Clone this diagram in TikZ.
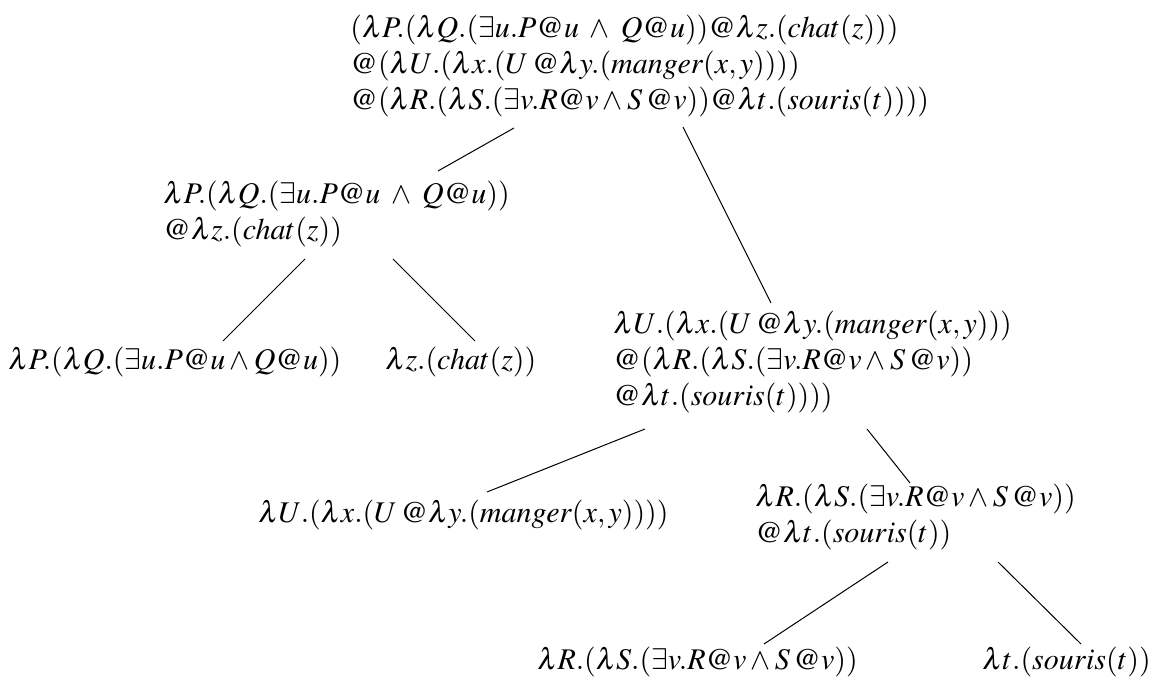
\documentclass[tikz,border=0pt]{standalone}
\usepackage{mathptmx}
\begin{document}
\begin{tikzpicture}[x=0.5pt,y=-0.5pt,
  term/.style={align=left, inner sep=0pt, anchor=west, font=\fontsize{15}{18}\selectfont},
  edge/.style={line width=0.5pt}]
\useasboundingbox (0,0) rectangle (1164,684);
\node[term] (root) at (350,66) {$(\lambda P.(\lambda Q.(\exists u.P@u\;\wedge\;Q@u))@\lambda z.(chat(z)))$\\
$@(\lambda U.(\lambda x.(U\,@\lambda y.(manger(x,y))))$\\
$@(\lambda R.(\lambda S.(\exists v.R@v\wedge S\,@v))@\lambda t.(souris(t))))$};
\node[term] (A) at (163,214) {$\lambda P.(\lambda Q.(\exists u.P@u\;\wedge\;Q@u))$\\
$@\lambda z.(chat(z))$};
\node[term] (A1) at (8,362) {$\lambda P.(\lambda Q.(\exists u.P@u\wedge Q@u))$};
\node[term] (A2) at (385,362) {$\lambda z.(chat(z))$};
\node[term] (B) at (613,362) {$\lambda U.(\lambda x.(U\,@\lambda y.(manger(x,y)))$\\
$@(\lambda R.(\lambda S.(\exists v.R@v\wedge S\,@v))$\\
$@\lambda t.(souris(t))))$};
\node[term] (B1) at (258,515) {$\lambda U.(\lambda x.(U\,@\lambda y.(manger(x,y))))$};
\node[term] (B2) at (755,517) {$\lambda R.(\lambda S.(\exists v.R@v\wedge S\,@v))$\\
$@\lambda t.(souris(t))$};
\node[term] (B21) at (537,662) {$\lambda R.(\lambda S.(\exists v.R@v\wedge S\,@v))$};
\node[term] (B22) at (982,662) {$\lambda t.(souris(t))$};
\draw[edge] ([shift={(164,62)}]root.west) -- ([shift={(275,-43)}]A.west);
\draw[edge] ([shift={(333,61)}]root.west) -- ([shift={(158,-59)}]B.west);
\draw[edge] ([shift={(142,45)}]A.west) -- ([shift={(215,-21)}]A1.west);
\draw[edge] ([shift={(230,45)}]A.west) -- ([shift={(90,-21)}]A2.west);
\draw[edge] ([shift={(32,67)}]B.west) -- ([shift={(229,-23)}]B1.west);
\draw[edge] ([shift={(254,67)}]B.west) -- ([shift={(155,-34)}]B2.west);
\draw[edge] ([shift={(133,45)}]B2.west) -- ([shift={(227,-18)}]B21.west);
\draw[edge] ([shift={(243,45)}]B2.west) -- ([shift={(99,-18)}]B22.west);
\end{tikzpicture}
\end{document}
